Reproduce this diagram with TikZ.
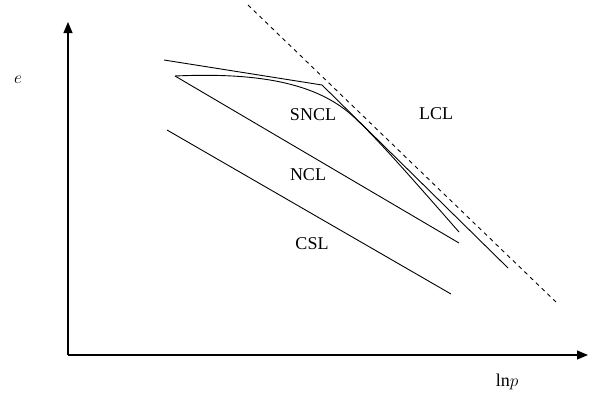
\documentclass[tikz,border=0pt]{standalone}
\usepackage{fontspec}
\setmainfont{Liberation Serif}
\usetikzlibrary{arrows.meta}

\begin{document}
\begin{tikzpicture}[
  x=1pt, y=-1pt,
  axis/.style={line width=1.1pt, -{Triangle[length=11pt,width=9pt]}},
  curve/.style={line width=0.9pt},
  lbl/.style={font=\fontsize{18}{21}\selectfont, inner sep=0pt}
]
\useasboundingbox (0,0) rectangle (590,394);
% axes
\coordinate (o) at (68,355);
\coordinate (etop) at (68,22);
\coordinate (pend) at (588,355);
\draw[axis] (o) -- (etop);
\draw[axis] (o) -- (pend);
\node[lbl] (elab) at (18,80) {$e$};
\node[lbl] (plab) at (507,382) {ln$p$};
% lines
\coordinate (lcla) at (248,5);
\coordinate (lclb) at (557,303);
\draw[curve, dash pattern=on 4pt off 4pt] (lcla) -- (lclb);
\coordinate (topa) at (164,60);
\coordinate (topb) at (322,85);
\coordinate (topc) at (508,268);
\draw[curve] (topa) -- (topb) -- (topc);
\coordinate (ncla) at (175,76);
\coordinate (nclb) at (459,243);
\draw[curve] (ncla) -- (nclb);
\coordinate (sncl) at (356,119);
\coordinate (snclb) at (459,232);
\draw[curve] (ncla) .. controls (265,72) and (321,85) .. (sncl)
  .. controls (378,140) and (402,167) .. (snclb);
\coordinate (csla) at (167,130);
\coordinate (cslb) at (451,294);
\draw[curve] (csla) -- (cslb);
% labels
\node[lbl] (snclt) at (313,115) {SNCL};
\node[lbl] (lclt) at (436,114) {LCL};
\node[lbl] (nclt) at (308,175) {NCL};
\node[lbl] (cslt) at (312,244) {CSL};
\end{tikzpicture}
\end{document}
